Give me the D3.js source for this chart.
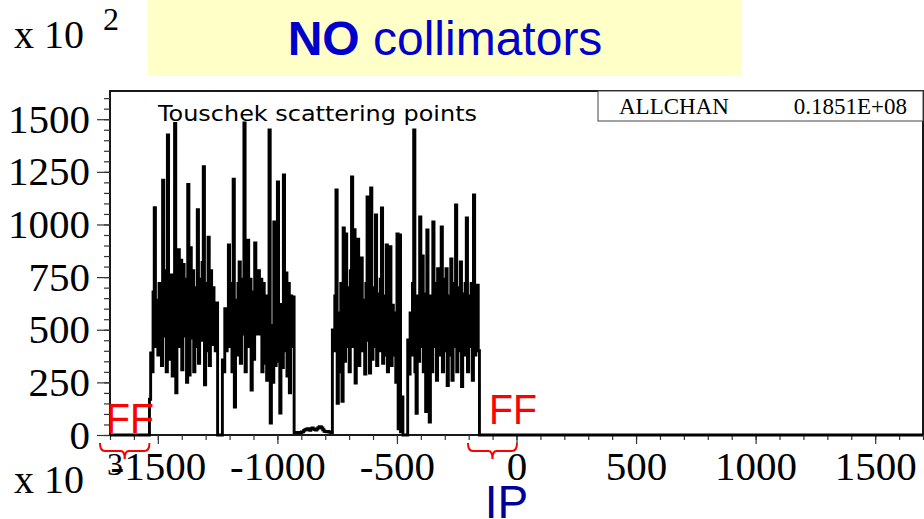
<!DOCTYPE html>
<html>
<head>
<meta charset="utf-8">
<script src="https://cdn.jsdelivr.net/npm/d3@7"></script>
<style>
  html, body { margin: 0; padding: 0; background: #fff; }
  svg { display: block; }
</style>
</head>
<body>
<svg id="chart" width="924" height="519"></svg>
<script>
// ---------------- data ----------------
const titleBold = "NO";
const titleRest = " collimators";
const histTitle = "Touschek scattering points";
const statName = "ALLCHAN";
const statValue = "0.1851E+08";
const yExponentLabel = "2";
const xExponentLabel = "3";

const xDomain = [-1700, 1700];
const yDomain = [0, 1634];
const xMajorTicks = [-1500, -1000, -500, 0, 500, 1000, 1500];
const yMajorTicks = [0, 250, 500, 750, 1000, 1250, 1500];

// histogram: first bin lower edge, bin width, counts (x 10^2) per bin
const binLow = -1535;
const binWidth = 5;
const region1 = [ // -1535 .. -1250
  170, 390, 300, 680, 1080, 420, 640, 380, 720, 560,
  330, 1210, 470, 780, 300, 1425, 620, 360, 760, 280,
  690, 1480, 200, 560, 880, 420, 830, 310, 810, 470,
  740, 250, 1190, 285, 890, 460, 780, 300, 700, 420,
  1070, 340, 740, 450, 820, 1275, 238, 720, 400, 940,
  330, 780, 430, 700, 600, 400, 627
];
const gap1 = [0, 0, 0, 0]; // -1250 .. -1230
const region2 = [ // -1230 .. -930
  356, 300, 600, 400, 580, 903, 420, 720, 300, 1215,
  133, 640, 380, 720, 822, 340, 740, 480, 1482, 300,
  660, 925, 420, 740, 213, 680, 360, 912, 480, 720,
  780, 480, 740, 300, 720, 340, 660, 260, 600, 1449,
  57, 520, 250, 1012, 330, 700, 1202, 350, 104, 620,
  320, 1235, 400, 770, 280, 720, 200, 660, 420, 656
];
const lowRegion = [ // -930 .. -770
  12, 10, 11, 12, 10, 12, 14, 15, 22, 25,
  28, 30, 25, 22, 30, 33, 28, 26, 24, 30,
  35, 40, 38, 33, 25, 18, 16, 15, 17, 14,
  13, 12
];
const region3 = [ // -770 .. -480
  499, 400, 660, 1164, 150, 580, 300, 720, 160, 983,
  350, 955, 420, 700, 300, 780, 1226, 420, 975, 247,
  660, 930, 330, 720, 841, 400, 640, 290, 720, 1131,
  450, 294, 1173, 360, 700, 420, 1045, 330, 670, 400,
  740, 1078, 340, 660, 380, 903, 300, 640, 895, 330,
  617, 380, 580, 250, 955, 30, 950, 15
];
const gap2 = [181, 0, 0, 0, 0]; // -480 .. -455
const region4 = [ // -455 .. -155
  451, 290, 580, 380, 720, 1449, 300, 103, 660, 350,
  1036, 420, 850, 300, 670, 111, 974, 380, 62, 660,
  300, 1012, 420, 720, 260, 790, 380, 680, 988, 300,
  740, 400, 790, 235, 660, 380, 836, 260, 720, 420,
  1093, 300, 700, 400, 822, 230, 670, 380, 720, 1031,
  300, 660, 420, 720, 260, 1140, 380, 660, 711, 400
];
const counts = [].concat(region1, gap1, region2, lowRegion, region3, gap2, region4);

// annotation ranges (x units): final-focus regions and IP
const ffRanges = [[-1742, -1535], [-203, 2]];
const ffLabel = "FF";
const ipLabel = "IP";

// ---------------- drawing ----------------
const svg = d3.select("#chart");
const W = 924, H = 519;
svg.append("rect").attr("width", W).attr("height", H).attr("fill", "#fff");

const frame = { left: 110, right: 923, top: 91, bottom: 435 };
const x = d3.scaleLinear().domain(xDomain).range([frame.left, frame.right]);
const y = d3.scaleLinear().domain(yDomain).range([frame.bottom, frame.top]);
const fmt = d => String(d);

// yellow title box
svg.append("rect").attr("x", 148).attr("y", 0).attr("width", 593).attr("height", 76)
  .attr("fill", "#ffffc8");
const t = svg.append("text").attr("x", 445).attr("y", 55).attr("text-anchor", "middle")
  .attr("font-family", "Liberation Sans, Arial, sans-serif").attr("font-size", 48)
  .attr("fill", "#0000cc");
t.append("tspan").attr("font-weight", "bold").text(titleBold);
t.append("tspan").text(titleRest);

// exponent labels
const serif = "Liberation Serif, Times New Roman, serif";
svg.append("text").attr("x", 14).attr("y", 48).attr("font-family", serif).attr("font-size", 40)
  .text("x 10");
svg.append("text").attr("x", 103).attr("y", 30).attr("font-family", serif).attr("font-size", 32)
  .text(yExponentLabel);

// frame
svg.append("rect").attr("x", frame.left).attr("y", frame.top)
  .attr("width", frame.right - frame.left).attr("height", frame.bottom - frame.top)
  .attr("fill", "none").attr("stroke", "#000").attr("stroke-width", 1.8);

// y axis minor ticks
const yMinor = d3.range(0, 1601, 50);
svg.append("g").attr("transform", `translate(${frame.left},0)`)
  .call(d3.axisLeft(y).tickValues(yMinor).tickSize(6).tickFormat(""))
  .call(g => g.select(".domain").remove())
  .call(g => g.selectAll("line").attr("stroke", "#333").attr("stroke-width", 1.2));
// y axis major
svg.append("g").attr("transform", `translate(${frame.left},0)`)
  .call(d3.axisLeft(y).tickValues(yMajorTicks).tickSize(13).tickPadding(7).tickFormat(fmt))
  .call(g => g.select(".domain").remove())
  .call(g => g.selectAll("line").attr("stroke", "#333").attr("stroke-width", 1.2))
  .call(g => g.selectAll("text").attr("font-family", serif).attr("font-size", 41).attr("fill", "#000"));

// x axis minor
const xMinor = d3.range(-1700, 1701, 100);
svg.append("g").attr("transform", `translate(0,${frame.bottom})`)
  .call(d3.axisBottom(x).tickValues(xMinor).tickSize(5).tickFormat(""))
  .call(g => g.select(".domain").remove())
  .call(g => g.selectAll("line").attr("stroke", "#333").attr("stroke-width", 1.2));
svg.append("g").attr("transform", `translate(0,${frame.bottom})`)
  .call(d3.axisBottom(x).tickValues(xMajorTicks).tickSize(9).tickPadding(7).tickFormat(fmt))
  .call(g => g.select(".domain").remove())
  .call(g => g.selectAll("line").attr("stroke", "#333").attr("stroke-width", 1.2))
  .call(g => g.selectAll("text").attr("font-family", serif).attr("font-size", 41).attr("fill", "#000"));

svg.append("text").attr("x", 14).attr("y", 493).attr("font-family", serif).attr("font-size", 40)
  .text("x 10");
svg.append("text").attr("x", 107).attr("y", 475).attr("font-family", serif).attr("font-size", 32)
  .attr("fill", "#000").text(xExponentLabel);

// histogram step line
const pts = [{ x: xDomain[0], v: 0 }];
counts.forEach((c, i) => pts.push({ x: binLow + i * binWidth, v: c }));
pts.push({ x: binLow + counts.length * binWidth, v: 0 });
pts.push({ x: xDomain[1], v: 0 });
const line = d3.line().x(d => x(d.x)).y(d => y(d.v)).curve(d3.curveStepAfter);
svg.append("path").attr("d", line(pts)).attr("fill", "none")
  .attr("stroke", "#000").attr("stroke-width", 2.9);

// histogram title
svg.append("text").attr("x", 158).attr("y", 121)
  .attr("font-family", "DejaVu Sans, sans-serif").attr("font-size", 21)
  .attr("textLength", 319).attr("lengthAdjust", "spacingAndGlyphs")
  .text(histTitle);

// stats box
svg.append("rect").attr("x", 598).attr("y", frame.top).attr("width", 325).attr("height", 30)
  .attr("fill", "#fff").attr("stroke", "#444").attr("stroke-width", 1);
svg.append("text").attr("x", 619).attr("y", 114).attr("font-family", serif).attr("font-size", 23)
  .text(statName);
svg.append("text").attr("x", 907).attr("y", 114).attr("text-anchor", "end")
  .attr("font-family", serif).attr("font-size", 23).text(statValue);

// FF annotations
ffRanges.forEach(([a, b], i) => {
  const x0 = x(a), x1 = x(b), xm = (x0 + x1) / 2;
  const yb = 451;
  svg.append("path")
    .attr("d", `M${x0},443 Q${x0},${yb} ${x0 + 5},${yb} L${xm - 4},${yb} Q${xm},${yb} ${xm},${yb + 8} Q${xm},${yb} ${xm + 4},${yb} L${x1 - 5},${yb} Q${x1},${yb} ${x1},443`)
    .attr("fill", "none").attr("stroke", "#ff0000").attr("stroke-width", 2);
  svg.append("text").attr("x", i === 0 ? 106 : 489).attr("y", i === 0 ? 433 : 424)
    .attr("font-family", "Liberation Sans, Arial, sans-serif").attr("font-size", 43)
    .attr("textLength", 48).attr("lengthAdjust", "spacingAndGlyphs")
    .attr("fill", "#ff0000").text(ffLabel);
});

// IP label
svg.append("text").attr("x", x(0) - 10).attr("y", 518).attr("text-anchor", "middle")
  .attr("font-family", "Liberation Sans, Arial, sans-serif").attr("font-size", 46)
  .attr("fill", "#000099").text(ipLabel);
</script>
</body>
</html>
